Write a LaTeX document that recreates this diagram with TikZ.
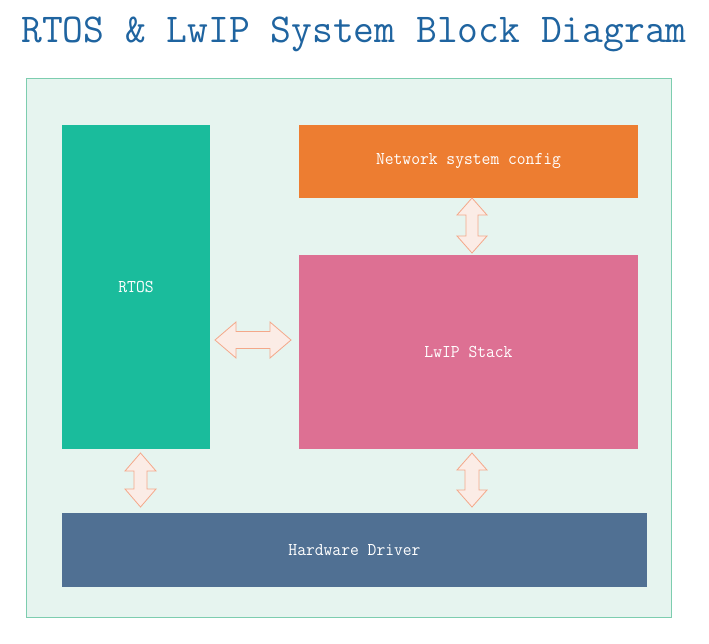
\documentclass[tikz,border=0pt]{standalone}
\usepackage{fontspec}
\newfontfamily\titlefont[FakeStretch=0.985]{Latin Modern Mono}
\newfontfamily\boxfont[FakeStretch=0.95]{Latin Modern Mono}
\usetikzlibrary{calc}
\definecolor{titleblue}{RGB}{31,100,160}
\definecolor{framefill}{RGB}{230,244,239}
\definecolor{frameline}{RGB}{125,205,175}
\definecolor{rtosc}{RGB}{26,188,156}
\definecolor{netc}{RGB}{237,125,49}
\definecolor{lwipc}{RGB}{221,112,147}
\definecolor{hwc}{RGB}{80,112,147}
\definecolor{arrfill}{RGB}{251,236,230}
\definecolor{arrline}{RGB}{244,168,138}
\begin{document}
\begin{tikzpicture}[x=1pt,y=-1pt,
  blockbox/.style={fill=#1,draw=none,text=white,font=\boxfont\fontsize{18}{21}\selectfont},
  arr/.style={fill=arrfill,draw=arrline,line width=0.8pt,line join=miter}]
\useasboundingbox (0,0) rectangle (709,643);
\node[anchor=center,text=titleblue,font=\titlefont\fontsize{41}{46}\selectfont] (title) at (354,34) {RTOS \& LwIP System Block Diagram};
\path[fill=framefill,draw=frameline,line width=0.8pt] (26.5,78.5) rectangle (671,617);
\path[blockbox=rtosc] (62,125) rectangle (210,449) node[midway,text=white] (rtos) {RTOS};
\path[blockbox=netc] (299,125) rectangle (638,198) node[midway] (net) {Network system config};
\path[blockbox=lwipc] (299,255) rectangle (638,449) node[midway] (lwip) {LwIP Stack};
\path[blockbox=hwc] (62,513) rectangle (647,587) node[midway] (hw) {Hardware Driver};
% vertical arrow net <-> lwip
\coordinate (t1) at (472,198);
\coordinate (b1) at (472,253);
\draw[arr] (t1) -- ($(t1)+(15,17)$) -- ($(t1)+(6,17)$) -- ($(b1)+(6,-17)$) -- ($(b1)+(15,-17)$) -- (b1) -- ($(b1)+(-15,-17)$) -- ($(b1)+(-6,-17)$) -- ($(t1)+(-6,17)$) -- ($(t1)+(-15,17)$) -- cycle;
% horizontal arrow rtos <-> lwip
\coordinate (l2) at (215,340);
\coordinate (r2) at (291,340);
\draw[arr] (l2) -- ($(l2)+(21,-18)$) -- ($(l2)+(21,-8.5)$) -- ($(r2)+(-21,-8.5)$) -- ($(r2)+(-21,-18)$) -- (r2) -- ($(r2)+(-21,18)$) -- ($(r2)+(-21,8.5)$) -- ($(l2)+(21,8.5)$) -- ($(l2)+(21,18)$) -- cycle;
% rtos <-> hw
\coordinate (t3) at (140.5,453);
\coordinate (b3) at (140.5,507);
\draw[arr] (t3) -- ($(t3)+(15.5,18)$) -- ($(t3)+(6.5,18)$) -- ($(b3)+(6.5,-18)$) -- ($(b3)+(15.5,-18)$) -- (b3) -- ($(b3)+(-15.5,-18)$) -- ($(b3)+(-6.5,-18)$) -- ($(t3)+(-6.5,18)$) -- ($(t3)+(-15.5,18)$) -- cycle;
% lwip <-> hw
\coordinate (t4) at (472,453);
\coordinate (b4) at (472,507);
\draw[arr] (t4) -- ($(t4)+(15,17)$) -- ($(t4)+(7,17)$) -- ($(b4)+(7,-17)$) -- ($(b4)+(15,-17)$) -- (b4) -- ($(b4)+(-15,-17)$) -- ($(b4)+(-7,-17)$) -- ($(t4)+(-7,17)$) -- ($(t4)+(-15,17)$) -- cycle;
\end{tikzpicture}
\end{document}
